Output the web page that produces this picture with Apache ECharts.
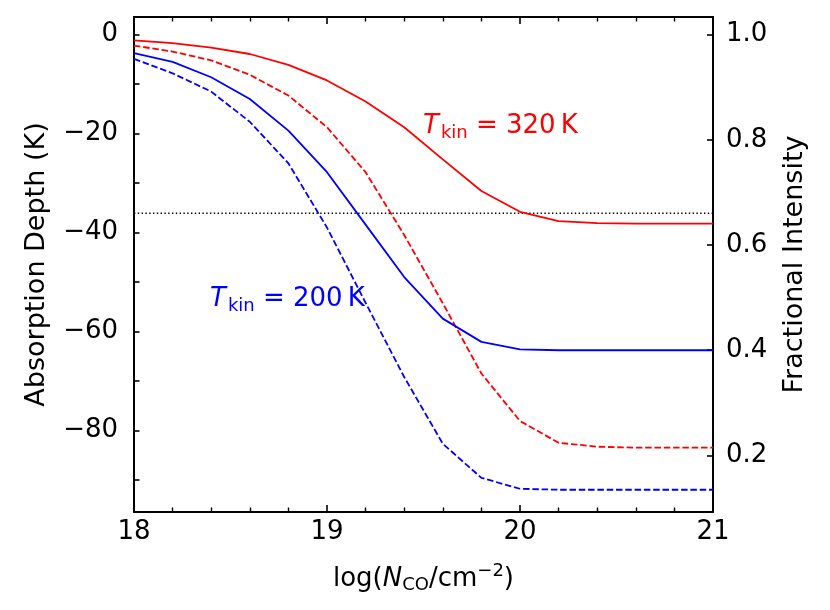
<!DOCTYPE html>
<html>
<head>
<meta charset="utf-8">
<script src="https://cdn.jsdelivr.net/npm/echarts@6/dist/echarts.min.js"></script>
<style>
  html, body { margin: 0; padding: 0; background: #fff; }
  #chart { width: 830px; height: 610px; }
</style>
</head>
<body>
<div id="chart"></div>
<script>
// log column density grid
const logN = [18, 18.2, 18.4, 18.6, 18.8, 19, 19.2, 19.4, 19.6, 19.8, 20, 20.2, 20.4, 20.6, 20.8, 21];

// absorption depth (K)
const red320Solid = [-1.15, -1.7, -2.6, -3.9, -6.1, -9.25, -13.5, -18.7, -25.2, -31.6, -35.8, -37.7, -38.1, -38.2, -38.2, -38.2];
const red320Dashed = [-2.2, -3.4, -5.2, -8.1, -12.3, -18.7, -27.8, -40.5, -54.3, -68.5, -78.1, -82.5, -83.3, -83.5, -83.5, -83.5];
const blue200Solid = [-3.7, -5.5, -8.6, -13.0, -19.4, -27.8, -38.4, -49.0, -57.4, -62.1, -63.6, -63.8, -63.8, -63.8, -63.8, -63.8];
const blue200Dashed = [-4.9, -7.8, -11.5, -17.6, -26.0, -39.0, -54.2, -69.2, -82.7, -89.6, -91.8, -92.0, -92.0, -92.0, -92.0, -92.0];

// observed depth level (dotted line)
const obsX = [18, 21];
const obsDepth = [-36.1, -36.1];

// ticks
const depthTicks = [0, -10, -20, -30, -40, -50, -60, -70, -80, -90];
const depthLabels = [0, -20, -40, -60, -80];
const fracLabels = [0.2, 0.4, 0.6, 0.8, 1.0];

// axis ranges; right axis = 1 + depth / continuum
const depthMin = -96.5;
const depthMax = 3.58;
const continuumK = 106.3;

const FONT = 'DejaVu Sans';
const pairs = (ys) => logN.map((x, i) => [x, ys[i]]);
const minus = (v) => String(v).replace('-', '\u2212');

const chart = echarts.init(document.getElementById('chart'));

const xAxisBase = {
  type: 'value',
  min: 18,
  max: 21,
  interval: 1,
  axisLine: { show: true, onZero: false, lineStyle: { color: '#000', width: 2 } },
  axisTick: { show: true, inside: true, length: 7, lineStyle: { color: '#000', width: 1.6 } },
  minorTick: { show: true, splitNumber: 5, length: 4.5, lineStyle: { color: '#000', width: 1.4 } },
  splitLine: { show: false },
  minorSplitLine: { show: false },
};

const option = {
  animation: false,
  backgroundColor: '#fff',
  textStyle: { fontFamily: FONT },
  grid: { left: 134, right: 117, top: 17, bottom: 98 },
  xAxis: [
    Object.assign({}, xAxisBase, {
      position: 'bottom',
      axisLabel: { fontSize: 26, color: '#000', margin: 7, fontFamily: FONT },
      name: '{rm|log(}{it|N}{sub|CO}{rm|/cm}{sup|\u22122}{rm|)}',
      nameLocation: 'middle',
      nameGap: 50,
      nameTextStyle: {
        color: '#000',
        fontFamily: FONT,
        rich: {
          rm: { fontSize: 26, color: '#000', fontFamily: FONT },
          it: { fontSize: 26, color: '#000', fontStyle: 'italic', fontFamily: FONT },
          sub: { fontSize: 18, color: '#000', fontFamily: FONT, padding: [13, 0, 0, 0] },
          sup: { fontSize: 18, color: '#000', fontFamily: FONT, padding: [0, 0, 16, 0] },
        },
      },
    }),
    Object.assign({}, xAxisBase, {
      position: 'top',
      axisLabel: { show: false },
    }),
  ],
  yAxis: [
    {
      type: 'value',
      position: 'left',
      min: depthMin,
      max: depthMax,
      axisLine: { show: true, onZero: false, lineStyle: { color: '#000', width: 2 } },
      axisTick: { show: true, inside: true, length: 5.5, customValues: depthTicks, lineStyle: { color: '#000', width: 1.6 } },
      axisLabel: { customValues: depthLabels, fontSize: 26, color: '#000', margin: 16, fontFamily: FONT, formatter: minus },
      splitLine: { show: false },
      name: 'Absorption Depth (K)',
      nameLocation: 'middle',
      nameGap: 84,
      nameTextStyle: { fontSize: 27, color: '#000', fontFamily: FONT },
    },
    {
      type: 'value',
      position: 'right',
      min: 1 + depthMin / continuumK,
      max: 1 + depthMax / continuumK,
      axisLine: { show: true, onZero: false, lineStyle: { color: '#000', width: 2 } },
      axisTick: { show: true, inside: true, length: 6, customValues: fracLabels, lineStyle: { color: '#000', width: 1.6 } },
      axisLabel: { customValues: fracLabels, fontSize: 26, color: '#000', margin: 13, fontFamily: FONT, formatter: (v) => v.toFixed(1) },
      splitLine: { show: false },
      name: 'Fractional Intensity',
      nameLocation: 'middle',
      nameGap: 68,
      nameTextStyle: { fontSize: 27, color: '#000', fontFamily: FONT },
    },
  ],
  series: [
    {
      name: 'obs',
      type: 'line',
      data: obsX.map((x, i) => [x, obsDepth[i]]),
      symbol: 'none',
      lineStyle: { color: '#000', width: 1.4, type: [1.4, 2.4] },
      z: 1,
    },
    {
      name: '320 K solid',
      type: 'line',
      data: pairs(red320Solid),
      symbol: 'none',
      lineStyle: { color: '#ff0000', width: 1.8 },
    },
    {
      name: '320 K dashed',
      type: 'line',
      data: pairs(red320Dashed),
      symbol: 'none',
      lineStyle: { color: '#ff0000', width: 1.8, type: [6.5, 2.8] },
    },
    {
      name: '200 K solid',
      type: 'line',
      data: pairs(blue200Solid),
      symbol: 'none',
      lineStyle: { color: '#0000ff', width: 1.8 },
    },
    {
      name: '200 K dashed',
      type: 'line',
      data: pairs(blue200Dashed),
      symbol: 'none',
      lineStyle: { color: '#0000ff', width: 1.8, type: [6.5, 2.8] },
    },
  ],
  graphic: [
    {
      type: 'text',
      x: 423,
      y: 126,
      style: {
        text: '{it|T}{sub|kin}{rm| = 320\u2009K}',
        fill: '#ff0000',
        align: 'left',
        verticalAlign: 'middle',
        rich: {
          it: { fontSize: 26, fontStyle: 'italic', fontFamily: FONT, fill: '#ff0000' },
          sub: { fontSize: 18, fontFamily: FONT, fill: '#ff0000', padding: [14, 0, 0, 2] },
          rm: { fontSize: 26, fontFamily: FONT, fill: '#ff0000' },
        },
      },
    },
    {
      type: 'text',
      x: 210,
      y: 299,
      style: {
        text: '{it|T}{sub|kin}{rm| = 200\u2009K}',
        fill: '#0000ff',
        align: 'left',
        verticalAlign: 'middle',
        rich: {
          it: { fontSize: 26, fontStyle: 'italic', fontFamily: FONT, fill: '#0000ff' },
          sub: { fontSize: 18, fontFamily: FONT, fill: '#0000ff', padding: [14, 0, 0, 2] },
          rm: { fontSize: 26, fontFamily: FONT, fill: '#0000ff' },
        },
      },
    },
  ],
};

chart.setOption(option);
</script>
</body>
</html>
